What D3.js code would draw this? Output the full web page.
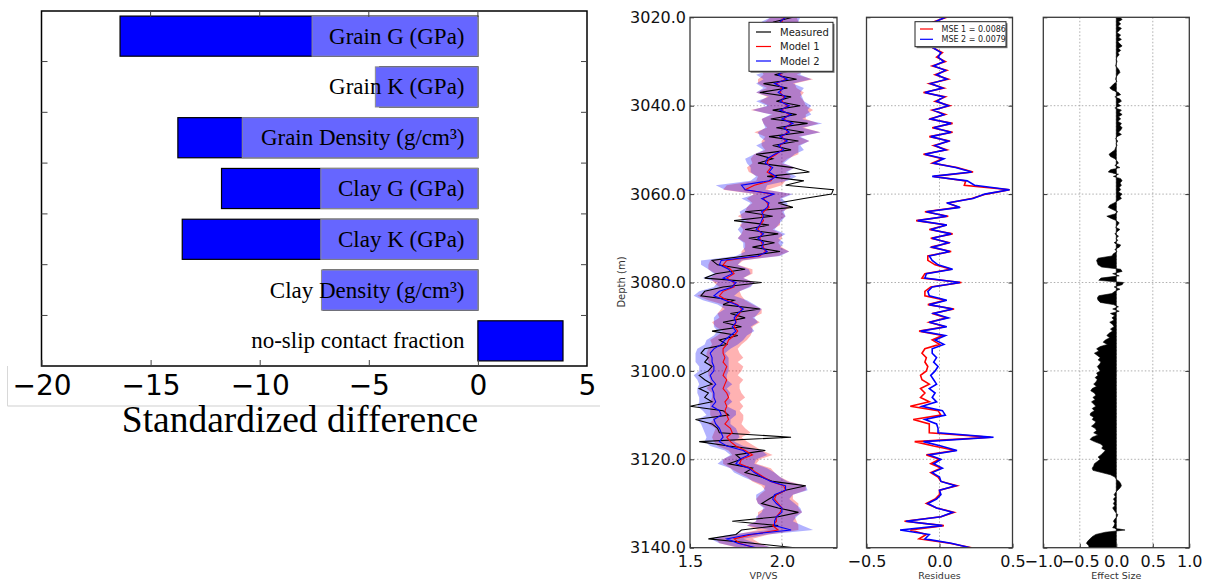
<!DOCTYPE html>
<html><head><meta charset="utf-8">
<script src="https://cdn.jsdelivr.net/npm/d3@7"></script>
<style>body{margin:0;background:#fff}svg{display:block}</style>
</head><body>
<svg id="c" width="1206" height="581"></svg>
<script>
// ---------------- Bar chart data ----------------
const categories = ["Grain G (GPa)","Grain K (GPa)","Grain Density (g/cm³)","Clay G (GPa)","Clay K (GPa)","Clay Density (g/cm³)","no-slip contact fraction"];
const diffDark  = [-16.4, -4.5, -13.75, -11.75, -13.55, -7.1, 3.9];
const diffLight = [-7.6, -4.7, -10.8, -7.2, -7.2, -7.17, 0];
const barTicks = [-20, -15, -10, -5, 0, 5];
const barTitle = "Standardized difference";

// ---------------- Well-log data (1 m step from 3020 m) ----------------
const depthStart = 3020, depthStep = 1;
const measured = [
2.06,1.96,2.04,1.95,2.03,1.97,2.05,1.94,2.02,1.97,
2.04,1.93,2.06,1.96,2.08,1.90,2.03,1.88,2.05,1.97,
2.10,1.95,2.08,1.94,2.14,1.97,2.12,1.93,2.09,1.95,
2.05,1.86,1.95,1.87,2.06,2.15,1.92,2.12,2.02,2.28,
2.27,2.12,1.98,2.06,1.80,1.95,1.74,1.93,1.80,1.98,
1.82,1.96,1.84,1.99,1.80,1.62,1.65,1.80,1.64,1.58,
1.89,1.68,1.58,1.56,1.74,1.68,1.88,1.72,1.80,1.68,
1.78,1.62,1.76,1.66,1.70,1.58,1.56,1.60,1.58,1.62,
1.60,1.55,1.58,1.62,1.55,1.60,1.58,1.62,1.50,1.68,
1.71,1.53,1.62,1.65,1.66,2.05,1.55,1.71,1.91,1.75,
1.78,1.71,1.84,1.80,1.89,1.95,2.13,2.02,1.97,1.93,
1.89,1.98,2.09,1.98,1.73,1.98,1.78,1.75,1.60,1.84,
2.07];
const model1 = [
2.01,2.00,2.01,1.99,2.00,2.00,2.01,1.98,2.00,1.99,
2.00,1.98,2.01,1.99,2.02,1.97,2.00,1.99,2.01,2.00,
2.03,2.00,2.04,2.01,2.05,2.02,2.03,2.00,2.02,1.99,
2.00,1.97,1.93,1.92,1.94,1.92,1.96,1.94,1.85,1.80,
1.95,1.90,1.92,1.93,1.90,1.89,1.90,1.88,1.87,1.89,
1.88,1.89,1.90,1.91,1.88,1.70,1.68,1.72,1.74,1.70,
1.74,1.74,1.68,1.66,1.70,1.76,1.78,1.77,1.75,1.75,
1.74,1.76,1.74,1.71,1.70,1.68,1.68,1.69,1.68,1.70,
1.69,1.68,1.70,1.69,1.68,1.70,1.71,1.69,1.70,1.69,
1.70,1.71,1.69,1.72,1.73,1.70,1.72,1.75,1.80,1.84,
1.78,1.77,1.83,1.86,1.90,1.94,2.01,2.02,1.97,1.96,
1.98,2.00,1.99,1.97,1.97,1.95,1.98,1.84,1.74,1.77,
1.85];
const model2 = [
2.02,1.99,2.01,1.98,2.01,1.99,2.02,1.98,2.01,1.98,
2.01,1.97,2.02,1.98,2.03,1.96,2.01,1.98,2.02,1.99,
2.04,1.99,2.05,2.00,2.06,2.01,2.04,1.99,2.03,1.98,
2.01,1.96,1.92,1.91,1.95,1.93,1.97,1.93,1.78,1.80,
1.96,1.89,1.93,1.92,1.89,1.90,1.89,1.88,1.86,1.90,
1.87,1.90,1.89,1.92,1.87,1.67,1.66,1.71,1.73,1.68,
1.75,1.73,1.66,1.63,1.69,1.75,1.79,1.76,1.74,1.75,
1.73,1.75,1.72,1.69,1.67,1.63,1.61,1.62,1.62,1.63,
1.63,1.61,1.62,1.64,1.62,1.63,1.63,1.64,1.62,1.66,
1.67,1.63,1.64,1.66,1.67,1.68,1.66,1.70,1.79,1.82,
1.77,1.75,1.82,1.85,1.89,1.94,2.02,2.02,1.96,1.95,
1.97,2.00,2.00,1.97,1.96,1.96,2.05,1.82,1.70,1.76,
1.86];
const sigma1 = [
.07,.09,.08,.10,.08,.11,.08,.09,.10,.08,
.11,.08,.12,.09,.15,.10,.08,.13,.09,.12,
.10,.17,.09,.12,.15,.10,.18,.09,.13,.10,
.09,.12,.10,.08,.13,.10,.09,.08,.15,.12,
.10,.09,.08,.12,.10,.13,.09,.11,.08,.11,
.12,.09,.10,.13,.10,.09,.08,.12,.10,.09,
.11,.08,.09,.12,.10,.08,.11,.12,.09,.13,
.10,.08,.09,.10,.08,.08,.09,.10,.08,.09,
.09,.08,.09,.08,.09,.08,.09,.08,.09,.08,
.09,.08,.09,.08,.10,.08,.09,.10,.09,.11,
.10,.09,.11,.10,.09,.10,.12,.11,.09,.10,
.11,.09,.12,.10,.11,.14,.11,.09,.10,.11,
.09];
const sigma2 = [
.08,.10,.09,.09,.11,.10,.09,.08,.11,.10,
.10,.11,.09,.12,.13,.10,.11,.12,.09,.13,
.12,.15,.11,.11,.16,.10,.17,.11,.12,.12,
.11,.11,.12,.10,.12,.10,.11,.10,.14,.11,
.10,.11,.10,.11,.12,.12,.11,.10,.10,.12,
.11,.11,.10,.12,.12,.11,.10,.11,.10,.11,
.10,.10,.11,.11,.12,.10,.10,.11,.11,.12,
.10,.10,.09,.10,.09,.09,.08,.09,.09,.08,
.08,.09,.08,.09,.08,.09,.08,.09,.08,.09,
.08,.09,.08,.09,.09,.09,.08,.09,.10,.10,
.09,.10,.10,.11,.10,.09,.11,.12,.10,.09,
.10,.10,.11,.11,.10,.15,.12,.10,.09,.10,
.09];
// Effect size, 0.5 m step from 3020 m
const effectStep = 0.5;
const effectSize = [
0.05,0.08,0.03,0.06,0.02,0.07,0.04,0.01,0.06,0.03,0.07,0.02,0.05,0.08,0.03,0.06,0.02,0.04,0.01,0.00,
0.01,0.00,-0.01,0.02,0.04,0.05,0.02,0.00,-0.01,0.01,-0.03,-0.06,-0.09,-0.05,0.03,0.06,-0.02,0.05,0.07,0.02,
0.06,-0.02,0.07,0.04,0.08,0.03,0.06,0.02,0.07,0.05,0.08,0.06,0.03,0.07,0.01,-0.01,0.02,0.00,0.01,-0.01,
-0.02,-0.06,-0.10,-0.08,-0.02,0.01,0.03,-0.02,0.05,-0.08,-0.11,0.03,-0.04,0.06,0.08,0.05,0.07,0.04,0.06,0.03,
0.08,0.05,0.07,0.02,-0.03,-0.09,-0.11,-0.05,0.02,-0.02,-0.13,-0.07,0.00,0.04,0.02,-0.01,0.05,0.01,-0.02,0.03,
0.00,0.02,-0.03,0.06,0.04,-0.02,0.01,-0.04,-0.06,-0.25,-0.27,-0.26,-0.25,-0.20,0.06,0.08,-0.05,0.04,-0.21,-0.24,
0.10,0.08,-0.03,0.05,-0.02,-0.06,-0.24,-0.26,-0.25,-0.22,-0.04,0.03,-0.05,0.04,-0.08,-0.02,-0.06,-0.03,-0.09,-0.05,
-0.03,-0.08,-0.05,-0.10,-0.13,-0.09,-0.15,-0.18,-0.12,-0.22,-0.27,-0.24,-0.30,-0.26,-0.22,-0.25,-0.21,-0.23,-0.26,-0.24,
-0.22,-0.27,-0.25,-0.29,-0.26,-0.28,-0.31,-0.27,-0.33,-0.35,-0.30,-0.28,-0.32,-0.29,-0.34,-0.31,-0.28,-0.33,-0.30,-0.35,
-0.36,-0.31,-0.33,-0.28,-0.30,-0.34,-0.29,-0.27,-0.31,-0.25,-0.33,-0.36,-0.30,-0.22,-0.18,-0.20,-0.15,-0.18,-0.21,-0.25,
-0.22,-0.26,-0.30,-0.31,-0.33,-0.32,-0.20,-0.08,-0.02,0.00,0.04,0.06,0.07,0.05,0.02,-0.01,-0.03,-0.01,-0.04,-0.02,
-0.04,-0.02,-0.05,-0.03,-0.01,0.02,0.01,-0.02,-0.04,-0.02,-0.03,-0.05,0.12,-0.15,-0.28,-0.33,-0.36,-0.39,-0.41,-0.38,
-0.37];
const depthTicks = [3020, 3040, 3060, 3080, 3100, 3120, 3140];
const vpvsTicks = [1.5, 2.0];
const residTicks = [-0.5, 0.0, 0.5];
const effectTicks = [-1.0, -0.5, 0.0, 0.5, 1.0];
const legend1 = ["Measured", "Model 1", "Model 2"];
const legend2 = ["MSE 1 = 0.0086", "MSE 2 = 0.0079"];
const axisTitles = ["VP/VS", "Residues", "Effect Size"];

// ---------------- Drawing ----------------
const svg = d3.select("#c");
const SANS = "'DejaVu Sans', sans-serif";
const SERIF = "'Liberation Serif', 'Times New Roman', serif";

// ===== Left: horizontal bar chart =====
const L = {x0: 41.5, x1: 587, y0: 11, y1: 366};
const bx = d3.scaleLinear().domain([-20, 5]).range([L.x0, L.x1]);
const by = d3.scaleBand().domain(categories).range([L.y0, L.y1]).paddingInner(0.21).paddingOuter(0.1);
const gL = svg.append("g");

// image-crop artefact lines
gL.append("line").attr("x1", 7.5).attr("x2", 600).attr("y1", 406).attr("y2", 406).attr("stroke", "#cfcfcf").attr("stroke-width", 1);
gL.append("line").attr("x1", 7.5).attr("x2", 7.5).attr("y1", 366).attr("y2", 406).attr("stroke", "#d8d8d8").attr("stroke-width", 1);

gL.selectAll("rect.dark").data(categories).join("rect").attr("class", "dark")
  .attr("x", (d, i) => Math.min(bx(0), bx(diffDark[i])))
  .attr("width", (d, i) => Math.abs(bx(diffDark[i]) - bx(0)))
  .attr("y", d => by(d)).attr("height", by.bandwidth())
  .attr("fill", "#0000ff").attr("stroke", "#000").attr("stroke-width", 1.2);
gL.selectAll("rect.light").data(categories).join("rect").attr("class", "light")
  .attr("x", (d, i) => Math.min(bx(0), bx(diffLight[i])))
  .attr("width", (d, i) => Math.abs(bx(diffLight[i]) - bx(0)))
  .attr("y", d => by(d)).attr("height", by.bandwidth())
  .attr("fill", "#6666ff").attr("stroke", "#8c8c8c").attr("stroke-width", 1)
  .attr("display", (d, i) => diffLight[i] === 0 ? "none" : null);

gL.selectAll("text.lab").data(categories).join("text").attr("class", "lab")
  .attr("x", 464.5).attr("y", d => by(d) + by.bandwidth() / 2 + 7.5)
  .attr("text-anchor", "end").attr("font-family", SERIF).attr("font-size", 23).attr("fill", "#000")
  .text(d => d);

// frame
gL.append("rect").attr("x", L.x0).attr("y", L.y0).attr("width", L.x1 - L.x0).attr("height", L.y1 - L.y0)
  .attr("fill", "none").attr("stroke", "#000").attr("stroke-width", 1.5);

// y tick marks at band boundaries (left & right, inward)
const bound = categories.slice(0, -1).map(c => by(c) + by.bandwidth() + by.step() * by.paddingInner() / 2);
bound.forEach(yv => {
  gL.append("line").attr("x1", L.x0).attr("x2", L.x0 + 6).attr("y1", yv).attr("y2", yv).attr("stroke", "#444").attr("stroke-width", 1);
  gL.append("line").attr("x1", L.x1).attr("x2", L.x1 - 6).attr("y1", yv).attr("y2", yv).attr("stroke", "#444").attr("stroke-width", 1);
});
// x ticks top (inward)
barTicks.slice(1, -1).forEach(v => {
  gL.append("line").attr("x1", bx(v)).attr("x2", bx(v)).attr("y1", L.y0).attr("y2", L.y0 + 6).attr("stroke", "#444");
});
const xAxisL = d3.axisBottom(bx).tickValues(barTicks).tickFormat(d3.format("d")).tickSize(-6).tickPadding(9);
const gxL = gL.append("g").attr("transform", `translate(0,${L.y1})`).call(xAxisL);
gxL.select(".domain").remove();
gxL.selectAll("line").attr("stroke", "#444");
gxL.selectAll("text").attr("font-family", SANS).attr("font-size", 28).attr("fill", "#000");
gL.append("text").attr("x", 300).attr("y", 432).attr("text-anchor", "middle")
  .attr("font-family", SERIF).attr("font-size", 37.5).attr("fill", "#000").text(barTitle);

// ===== Right: well-log panels =====
const Y0 = 17.3, Y1 = 547.7;
const yD = d3.scaleLinear().domain([3020, 3140]).range([Y0, Y1]);
const depths = measured.map((_, i) => depthStart + i * depthStep);
const effDepths = effectSize.map((_, i) => depthStart + i * effectStep);
const panels = [
  {x0: 690, x1: 837, dom: [1.5, 2.3], ticks: vpvsTicks, grid: [2.0], title: axisTitles[0]},
  {x0: 866.5, x1: 1012.5, dom: [-0.5, 0.5], ticks: residTicks, grid: [0.0], title: axisTitles[1]},
  {x0: 1043.3, x1: 1189.3, dom: [-1, 1], ticks: effectTicks, grid: [-0.5, 0, 0.5], title: axisTitles[2]}
];
panels.forEach((p, k) => {
  p.x = d3.scaleLinear().domain(p.dom).range([p.x0, p.x1]);
  p.g = svg.append("g");
  const cid = "clip" + k;
  svg.append("defs").append("clipPath").attr("id", cid).append("rect")
    .attr("x", p.x0).attr("y", Y0).attr("width", p.x1 - p.x0).attr("height", Y1 - Y0);
  depthTicks.slice(1, -1).forEach(d => {
    p.g.append("line").attr("x1", p.x0).attr("x2", p.x1).attr("y1", yD(d)).attr("y2", yD(d))
      .attr("stroke", "#9a9a9a").attr("stroke-width", 0.8).attr("stroke-dasharray", "1.5,2");
  });
  p.grid.forEach(v => {
    p.g.append("line").attr("x1", p.x(v)).attr("x2", p.x(v)).attr("y1", Y0).attr("y2", Y1)
      .attr("stroke", "#9a9a9a").attr("stroke-width", 0.8).attr("stroke-dasharray", "1.5,2");
  });
  p.plot = p.g.append("g").attr("clip-path", `url(#${cid})`);
});

// Panel 1: VP/VS
const P1 = panels[0];
const band = (m, s) => d3.area().y((d, i) => yD(depths[i])).x0((d, i) => P1.x(m[i] - s[i])).x1((d, i) => P1.x(m[i] + s[i]));
P1.plot.append("path").attr("d", band(model1, sigma1)(measured)).attr("fill", "#ff0000").attr("fill-opacity", 0.3);
P1.plot.append("path").attr("d", band(model2, sigma2)(measured)).attr("fill", "#0000ff").attr("fill-opacity", 0.3);
const line1 = arr => d3.line().x(v => P1.x(v)).y((v, i) => yD(depths[i]))(arr);
P1.plot.append("path").attr("d", line1(measured)).attr("fill", "none").attr("stroke", "#000").attr("stroke-width", 1.1);
P1.plot.append("path").attr("d", line1(model1)).attr("fill", "none").attr("stroke", "#ff0000").attr("stroke-width", 1.1);
P1.plot.append("path").attr("d", line1(model2)).attr("fill", "none").attr("stroke", "#0000ff").attr("stroke-width", 1.1);

// Panel 2: residuals (measured - model)
const P2 = panels[1];
const resid1 = measured.map((v, i) => v - model1[i]);
const resid2 = measured.map((v, i) => v - model2[i]);
const line2 = arr => d3.line().x(v => P2.x(v)).y((v, i) => yD(depths[i]))(arr);
P2.plot.append("path").attr("d", line2(resid1)).attr("fill", "none").attr("stroke", "#ff0000").attr("stroke-width", 1.6);
P2.plot.append("path").attr("d", line2(resid2)).attr("fill", "none").attr("stroke", "#0000ff").attr("stroke-width", 1.6);

// Panel 3: effect size
const P3 = panels[2];
const effArea = d3.area().y((d, i) => yD(effDepths[i])).x0(P3.x(0)).x1(d => P3.x(d));
P3.plot.append("path").attr("d", effArea(effectSize)).attr("fill", "#000").attr("stroke", "#000").attr("stroke-width", 0.6);

// frames, ticks, labels
panels.forEach((p, k) => {
  const ax = d3.axisBottom(p.x).tickValues(p.ticks).tickFormat(d3.format(".1f")).tickSize(-4).tickPadding(8);
  const gx = p.g.append("g").attr("transform", `translate(0,${Y1})`).call(ax);
  gx.select(".domain").remove();
  gx.selectAll("line").attr("stroke", "#333");
  gx.selectAll("text").attr("font-family", SANS).attr("font-size", 16).attr("fill", "#111");
  const ay = d3.axisLeft(yD).tickValues(depthTicks).tickFormat(k === 0 ? d3.format(".1f") : "").tickSize(-4).tickPadding(4);
  const gy = p.g.append("g").attr("transform", `translate(${p.x0},0)`).call(ay);
  gy.select(".domain").remove();
  gy.selectAll("line").attr("stroke", "#333");
  gy.selectAll("text").attr("font-family", SANS).attr("font-size", 16).attr("fill", "#111");
  const ay2 = d3.axisRight(yD).tickValues(depthTicks).tickFormat("").tickSize(-4);
  const gy2 = p.g.append("g").attr("transform", `translate(${p.x1},0)`).call(ay2);
  gy2.select(".domain").remove();
  gy2.selectAll("line").attr("stroke", "#333");
  p.g.append("rect").attr("x", p.x0).attr("y", Y0).attr("width", p.x1 - p.x0).attr("height", Y1 - Y0)
    .attr("fill", "none").attr("stroke", "#3a3a3a").attr("stroke-width", 1.3);
  p.g.append("text").attr("x", (p.x0 + p.x1) / 2).attr("y", 579).attr("text-anchor", "middle")
    .attr("font-family", SANS).attr("font-size", 9.5).attr("fill", "#333").text(p.title);
});
svg.append("text").attr("transform", "translate(625,282) rotate(-90)").attr("text-anchor", "middle")
  .attr("font-family", SANS).attr("font-size", 10).attr("fill", "#333").text("Depth (m)");

// Legend 1
const lg1 = svg.append("g");
lg1.append("rect").attr("x", 750.5).attr("y", 23.8).attr("width", 84).attr("height", 49).attr("fill", "#777");
lg1.append("rect").attr("x", 749).attr("y", 22.3).attr("width", 84).attr("height", 49).attr("fill", "#fff").attr("stroke", "#222").attr("stroke-width", 1);
const lc1 = ["#000", "#ff0000", "#0000ff"];
legend1.forEach((t, i) => {
  const yy = 32 + i * 14.5;
  lg1.append("line").attr("x1", 756).attr("x2", 771).attr("y1", yy).attr("y2", yy).attr("stroke", lc1[i]).attr("stroke-width", 1.2);
  lg1.append("text").attr("x", 780).attr("y", yy + 3.6).attr("font-family", SANS).attr("font-size", 10).attr("fill", "#222").text(t);
});
// Legend 2
const lg2 = svg.append("g");
lg2.append("rect").attr("x", 916.5).attr("y", 23.2).attr("width", 91).attr("height", 25).attr("fill", "#777");
lg2.append("rect").attr("x", 915).attr("y", 21.7).attr("width", 91).attr("height", 25).attr("fill", "#fff").attr("stroke", "#222").attr("stroke-width", 1);
const lc2 = ["#ff0000", "#0000ff"];
legend2.forEach((t, i) => {
  const yy = 29 + i * 10.3;
  lg2.append("line").attr("x1", 920).attr("x2", 933).attr("y1", yy).attr("y2", yy).attr("stroke", lc2[i]).attr("stroke-width", 1.2);
  lg2.append("text").attr("x", 941.5).attr("y", yy + 2.9).attr("font-family", SANS).attr("font-size", 8).attr("fill", "#222").text(t);
});
</script>
</body></html>
